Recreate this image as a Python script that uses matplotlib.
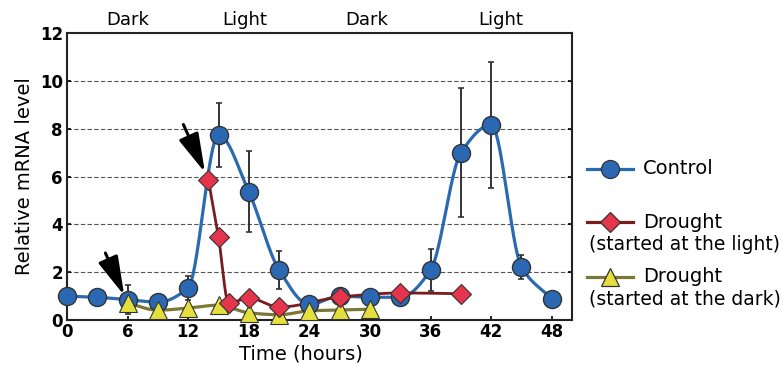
import numpy as np
import matplotlib
matplotlib.use("Agg")
import matplotlib.pyplot as plt
from matplotlib.lines import Line2D

# ---- data -------------------------------------------------------------
control_t = [0, 3, 6, 9, 12, 15, 18, 21, 24, 27, 30, 33, 36, 39, 42, 45, 48]
control_v = [1.0, 0.95, 0.85, 0.75, 1.35, 7.74, 5.36, 2.09, 0.65, 1.0, 0.95, 0.95,
             2.09, 6.99, 8.16, 2.22, 0.88]
control_err = [0, 0, 0.62, 0, 0.5, 1.33, 1.7, 0.78, 0, 0, 0, 0,
               0.88, 2.7, 2.64, 0.5, 0]

light_t = [14, 15, 16, 18, 21, 27, 33, 39]
light_v = [5.85, 3.47, 0.71, 0.92, 0.54, 0.96, 1.13, 1.1]

dark_t = [6, 9, 12, 15, 18, 21, 24, 27, 30]
dark_v = [0.71, 0.41, 0.5, 0.62, 0.3, 0.22, 0.38, 0.42, 0.45]

x_ticks = [0, 6, 12, 18, 24, 30, 36, 42, 48]
y_ticks = [0, 2, 4, 6, 8, 10, 12]
period_labels = ["Dark", "Light", "Dark", "Light"]
period_pos = [6, 17.6, 29.7, 42.9]

legend_labels = ["Control", "Drought", "Drought"]
legend_notes = ["", "(started at the light)", "(started at the dark)"]

# ---- styles -----------------------------------------------------------
BLUE, BLUE_LINE = "#2a68b4", "#2a6aae"
RED, RED_LINE = "#e5344b", "#7a1b1e"
YEL, YEL_LINE = "#e4df3c", "#7b7836"
EDGE = "#333333"


def pchip(x, y, xs):
    """Monotone cubic (Fritsch-Carlson) curve through the points."""
    x = np.asarray(x, float)
    y = np.asarray(y, float)
    h = np.diff(x)
    d = np.diff(y) / h
    m = np.zeros_like(y)
    for k in range(1, len(x) - 1):
        if d[k - 1] * d[k] > 0:
            w1 = 2 * h[k] + h[k - 1]
            w2 = h[k] + 2 * h[k - 1]
            m[k] = (w1 + w2) / (w1 / d[k - 1] + w2 / d[k])
    m[0], m[-1] = d[0], d[-1]
    out = np.empty_like(xs)
    idx = np.clip(np.searchsorted(x, xs) - 1, 0, len(x) - 2)
    for i, (xi, k) in enumerate(zip(xs, idx)):
        s = (xi - x[k]) / h[k]
        h00 = 2 * s**3 - 3 * s**2 + 1
        h10 = s**3 - 2 * s**2 + s
        h01 = -2 * s**3 + 3 * s**2
        h11 = s**3 - s**2
        out[i] = h00 * y[k] + h10 * h[k] * m[k] + h01 * y[k + 1] + h11 * h[k] * m[k + 1]
    return out


def smooth(t, v):
    xs = np.linspace(t[0], t[-1], 600)
    return xs, pchip(t, v, xs)


fig = plt.figure(figsize=(7.83, 3.66), dpi=100)
ax = fig.add_axes([0.0856, 0.1257, 0.6449, 0.7841])

for yv in y_ticks[1:-1]:
    ax.axhline(yv, color="#555555", lw=0.8, ls=(0, (4, 2)), zorder=0)

# curves
xs, ys = smooth(control_t, control_v)
ax.plot(xs, ys, color=BLUE_LINE, lw=2.3, zorder=2, solid_capstyle="round")
xs, ys = smooth(light_t, light_v)
ax.plot(xs, ys, color=RED_LINE, lw=2.0, zorder=3)
xs, ys = smooth(dark_t, dark_v)
ax.plot(xs, ys, color=YEL_LINE, lw=2.3, zorder=1)

# error bars (control only)
ax.errorbar(control_t, control_v, yerr=control_err, fmt="none", ecolor=EDGE,
            elinewidth=1.4, capsize=2.5, capthick=1.2, zorder=4)

# markers
ax.plot(control_t, control_v, "o", ms=13, mfc=BLUE, mec=EDGE, mew=1.0,
        zorder=5, clip_on=False)
ax.plot(dark_t, dark_v, "^", ms=13, mfc=YEL, mec=EDGE, mew=0.8,
        zorder=6, clip_on=False)
ax.plot(light_t, light_v, "D", ms=10, mfc=RED, mec=EDGE, mew=0.8,
        zorder=7, clip_on=False)

# arrows marking the start of each drought treatment
arrow = dict(arrowstyle="-|>,head_length=1.2,head_width=0.32", lw=2.2,
             color="black", mutation_scale=20, shrinkA=0, shrinkB=6)
ax.annotate("", xy=(light_t[0], light_v[0]), xytext=(-18, 40),
            textcoords="offset points", arrowprops=arrow, zorder=8)
ax.annotate("", xy=(dark_t[0], dark_v[0]), xytext=(-16, 36),
            textcoords="offset points", arrowprops=arrow, zorder=8)

# axes
ax.set_xlim(0, 50)
ax.set_ylim(0, 12)
ax.set_xticks(x_ticks)
ax.set_yticks(y_ticks)
ax.tick_params(direction="in", length=3, width=1.2, top=False, right=True,
               labelsize=12, colors="black")
ax.tick_params(axis="x", pad=2)
ax.tick_params(axis="y", pad=3)
for lab in ax.get_xticklabels() + ax.get_yticklabels():
    lab.set_fontweight("bold")
for sp in ax.spines.values():
    sp.set_linewidth(1.5)
    sp.set_color("#222222")

ax.set_xlabel("Time (hours)", fontsize=14)
ax.xaxis.set_label_coords(0.463, -0.085)
ax.set_ylabel("Relative mRNA level", fontsize=14)
ax.yaxis.set_label_coords(-0.066, 0.5)

for lab, xp in zip(period_labels, period_pos):
    ax.text(xp, 1.045, lab, transform=ax.get_xaxis_transform(),
            ha="center", va="center", fontsize=13)

# legend drawn in figure pixel space
lax = fig.add_axes([0, 0, 1, 1])
lax.set_xlim(0, 783)
lax.set_ylim(366, 0)
lax.axis("off")
styles = [("o", 13, BLUE, BLUE_LINE), ("D", 10, RED, RED_LINE), ("^", 13, YEL, YEL_LINE)]
rows = [169, 222, 277]
for (mk, ms, fc, lc), yrow, lab, note in zip(styles, rows, legend_labels, legend_notes):
    lax.add_line(Line2D([587, 633], [yrow, yrow], color=lc, lw=2.3))
    lax.add_line(Line2D([610], [yrow], marker=mk, ms=ms, mfc=fc, mec=EDGE, mew=0.9))
    lax.text(643, yrow, lab, fontsize=14, va="center", ha="left")
    if note:
        lax.text(589, yrow + 22, note, fontsize=13.5, va="center", ha="left")

fig.savefig("out.png", dpi=100)
